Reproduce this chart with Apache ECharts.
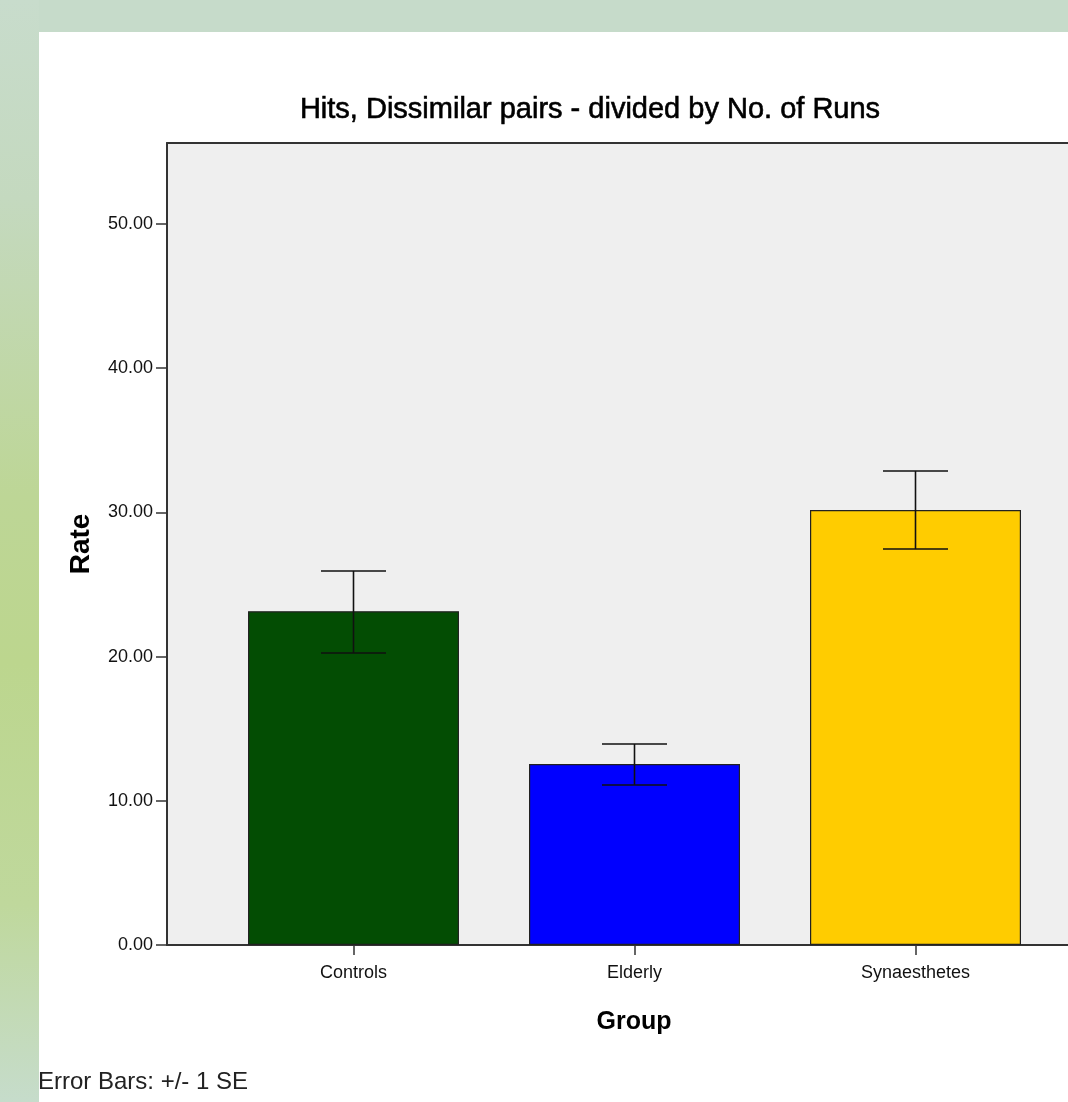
<!DOCTYPE html>
<html>
<head>
<meta charset="utf-8">
<script src="https://cdn.jsdelivr.net/npm/echarts@6/dist/echarts.min.js"></script>
<style>
html,body{margin:0;padding:0;background:#fff;}
#chart{width:1068px;height:1102px;}
</style>
</head>
<body>
<div id="chart"></div>
<script>
// ---- data ----
const categories = ['Controls', 'Elderly', 'Synaesthetes'];
const means = [23.15, 12.55, 30.17];
const errUpper = [25.94, 13.94, 32.87];
const errLower = [20.25, 11.10, 27.46];
const yTicks = [0, 10, 20, 30, 40, 50];
const titleText = 'Hits, Dissimilar pairs - divided by No. of Runs';
const xAxisTitle = 'Group';
const yAxisTitle = 'Rate';
const footnote = 'Error Bars: +/- 1 SE';

// ---- styles ----
const barColors = ['#034d03', '#0000ff', '#ffcc00'];

const chart = echarts.init(document.getElementById('chart'), null, {renderer: 'canvas'});

const barData = categories.map((c, i) => ({
  value: [i, means[i]],
  itemStyle: {color: barColors[i]}
}));
const errData = categories.map((c, i) => [i, errLower[i], errUpper[i]]);

const option = {
  backgroundColor: '#ffffff',
  animation: false,
  graphic: [
    {type: 'rect', z: -10, shape: {x: 0, y: 0, width: 1068, height: 32}, style: {fill: '#c6dbca'}},
    {type: 'rect', z: -10, shape: {x: 0, y: 0, width: 39, height: 1102}, style: {
      fill: new echarts.graphic.LinearGradient(0, 0, 0, 1, [
        {offset: 0, color: '#c8dccc'},
        {offset: 0.18, color: '#c4d9bf'},
        {offset: 0.45, color: '#bdd696'},
        {offset: 0.6, color: '#bcd68e'},
        {offset: 0.82, color: '#bfd89c'},
        {offset: 1, color: '#c6dccb'}
      ])
    }},
    {type: 'text', z: 10, style: {x: 590, y: 110, text: titleText, font: '29px "Liberation Sans", Arial, sans-serif', fill: '#000', stroke: '#000', lineWidth: 0.6, textAlign: 'center', textVerticalAlign: 'middle'}},
    {type: 'text', z: 10, style: {x: 634, y: 1022, text: xAxisTitle, font: 'bold 25px "Liberation Sans", Arial, sans-serif', fill: '#000', textAlign: 'center', textVerticalAlign: 'middle'}},
    {type: 'text', z: 10, style: {x: 38, y: 1082, text: footnote, font: '24px "Liberation Sans", Arial, sans-serif', fill: '#222', textAlign: 'left', textVerticalAlign: 'middle'}}
  ],
  grid: {
    left: 167, top: 143, right: 0, bottom: 157,
    show: true, backgroundColor: '#efefef', borderWidth: 0
  },
  xAxis: [{
    type: 'value', min: -0.6637, max: 2.5427,
    splitLine: {show: false},
    axisLine: {show: true, onZero: false, lineStyle: {color: '#333', width: 2}},
    axisTick: {show: true, customValues: [0, 1, 2], length: 10, lineStyle: {color: '#333', width: 1.5}},
    axisLabel: {customValues: [0, 1, 2], margin: 19, fontFamily: 'Liberation Sans', fontSize: 18, color: '#111',
      formatter: v => categories[Math.round(v)]}
  }, {
    type: 'value', position: 'top', min: -0.6637, max: 2.5427,
    splitLine: {show: false},
    axisLine: {show: true, onZero: false, lineStyle: {color: '#333', width: 2}},
    axisTick: {show: false}, axisLabel: {show: false}
  }],
  yAxis: {
    type: 'value', min: 0, max: 55.62,
    name: yAxisTitle, nameLocation: 'middle', nameGap: 72,
    nameTextStyle: {fontFamily: 'Liberation Sans', fontWeight: 'bold', fontSize: 28, color: '#000'},
    splitLine: {show: false},
    axisLine: {show: true, onZero: false, lineStyle: {color: '#333', width: 2}},
    axisTick: {show: true, customValues: yTicks, length: 11, lineStyle: {color: '#333', width: 1.5}},
    axisLabel: {customValues: yTicks, margin: 14, fontFamily: 'Liberation Sans', fontSize: 18, color: '#111',
      formatter: v => v.toFixed(2)}
  },
  series: [
    {
      type: 'bar', data: barData, barWidth: 211,
      itemStyle: {borderColor: '#222', borderWidth: 1.2}
    },
    {
      type: 'custom', data: errData, z: 5,
      renderItem: function (params, api) {
        const x = api.value(0);
        const lo = api.coord([x, api.value(1)]);
        const hi = api.coord([x, api.value(2)]);
        const hw = 32.5;
        const st = {stroke: '#111', lineWidth: 1.6};
        return {type: 'group', children: [
          {type: 'line', shape: {x1: hi[0], y1: hi[1], x2: lo[0], y2: lo[1]}, style: st},
          {type: 'line', shape: {x1: hi[0] - hw, y1: hi[1], x2: hi[0] + hw, y2: hi[1]}, style: st},
          {type: 'line', shape: {x1: lo[0] - hw, y1: lo[1], x2: lo[0] + hw, y2: lo[1]}, style: st}
        ]};
      }
    }
  ]
};
chart.setOption(option);
</script>
</body>
</html>
